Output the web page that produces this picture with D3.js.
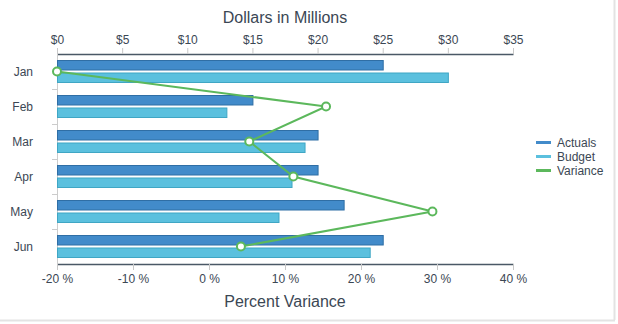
<!DOCTYPE html>
<html><head><meta charset="utf-8">
<script src="https://cdn.jsdelivr.net/npm/d3@7"></script>
<style>body{margin:0;background:#fff;}svg{display:block;font-family:"Liberation Sans",Arial,sans-serif;}</style>
</head><body><svg id="c" width="618" height="324"></svg>
<script>
const categories = ["Jan","Feb","Mar","Apr","May","Jun"];
const actuals = [25, 15, 20, 20, 22, 25];
const budget = [30, 13, 19, 18, 17, 24];
const variance = [-20, 15.4, 5.3, 11.1, 29.4, 4.2];
const dollarTicks = [0,5,10,15,20,25,30,35];
const pctTicks = [-20,-10,0,10,20,30,40];
const seriesNames = ["Actuals","Budget","Variance"];

const colA = "#428bca", colAS = "#2f6ea5";
const colB = "#5bc0de", colBS = "#3fa6c4";
const colV = "#5cb85c";
const txt = "#3b4754";

const svg = d3.select("#c");
const L = 57, R = 513, T = 54, B = 264;
const x = d3.scaleLinear().domain([0,35]).range([L,R]);
const xp = d3.scaleLinear().domain([-20,40]).range([L,R]);
const y = d3.scaleBand().domain(categories).range([T,B]);

// frame shadow
svg.append("line").attr("x1",614.5).attr("x2",614.5).attr("y1",0).attr("y2",320).attr("stroke","#e3e3e3").attr("stroke-width",2);
svg.append("line").attr("x1",0).attr("x2",615).attr("y1",320.5).attr("y2",320.5).attr("stroke","#e3e3e3").attr("stroke-width",2);

// top axis
const topAxis = svg.append("g").attr("transform",`translate(0,${T})`)
  .call(d3.axisTop(x).tickValues(dollarTicks).tickFormat(d=>"$"+d).tickSize(6).tickSizeOuter(0));
topAxis.select(".domain").attr("stroke","#4a5866").attr("stroke-width",1.5);
topAxis.selectAll(".tick line").attr("stroke","#c8c8c8");
topAxis.selectAll(".tick text").attr("fill",txt).attr("font-size",12).attr("y",-10).attr("font-family","Liberation Sans, Arial");

// bottom axis
const botAxis = svg.append("g").attr("transform",`translate(0,${B})`)
  .call(d3.axisBottom(xp).tickValues(pctTicks).tickFormat(d=>d+" %").tickSize(6).tickSizeOuter(0));
botAxis.select(".domain").attr("stroke","#4a5866").attr("stroke-width",1.5);
botAxis.selectAll(".tick line").attr("stroke","#c8c8c8");
botAxis.selectAll(".tick text").attr("fill",txt).attr("font-size",12).attr("y",10).attr("font-family","Liberation Sans, Arial");

// left axis
svg.append("line").attr("x1",L+0.5).attr("x2",L+0.5).attr("y1",T).attr("y2",B).attr("stroke","#cccccc");
categories.slice(1).forEach(c=>{
  svg.append("line").attr("x1",L-5).attr("x2",L).attr("y1",Math.round(y(c))+0.5).attr("y2",Math.round(y(c))+0.5).attr("stroke","#cccccc");
});
svg.selectAll(".cat").data(categories).enter().append("text")
  .attr("x",33).attr("y",d=>y(d)+y.bandwidth()/2+4).attr("text-anchor","end")
  .attr("font-size",12).attr("fill",txt).text(d=>d);

// bars
svg.selectAll(".ba").data(categories).enter().append("rect")
  .attr("x",L+0.5).attr("y",d=>y(d)+6.5).attr("height",9.5)
  .attr("width",(d,i)=>x(actuals[i])-L).attr("fill",colA).attr("stroke",colAS).attr("stroke-width",1);
svg.selectAll(".bb").data(categories).enter().append("rect")
  .attr("x",L+0.5).attr("y",d=>y(d)+19).attr("height",9.5)
  .attr("width",(d,i)=>x(budget[i])-L).attr("fill",colB).attr("stroke",colBS).attr("stroke-width",1);

// variance line
const line = d3.line().x((d,i)=>xp(d)).y((d,i)=>y(categories[i])+y.bandwidth()/2);
svg.append("path").datum(variance).attr("d",line).attr("fill","none").attr("stroke",colV).attr("stroke-width",2);
svg.selectAll(".pt").data(variance).enter().append("circle")
  .attr("cx",d=>xp(d)).attr("cy",(d,i)=>y(categories[i])+y.bandwidth()/2).attr("r",4)
  .attr("fill","#fff").attr("stroke",colV).attr("stroke-width",2);

// titles
svg.append("text").attr("x",(L+R)/2).attr("y",23).attr("text-anchor","middle").attr("font-size",16).attr("fill",txt).text("Dollars in Millions");
svg.append("text").attr("x",(L+R)/2).attr("y",307).attr("text-anchor","middle").attr("font-size",16).attr("fill",txt).text("Percent Variance");

// legend
const cols = [colA,colB,colV];
seriesNames.forEach((n,i)=>{
  const yy = 142.5 + i*14;
  svg.append("line").attr("x1",536).attr("x2",551).attr("y1",yy).attr("y2",yy).attr("stroke",cols[i]).attr("stroke-width",3);
  svg.append("text").attr("x",557).attr("y",yy+4).attr("font-size",12).attr("fill",txt).text(n);
});
</script></body></html>
